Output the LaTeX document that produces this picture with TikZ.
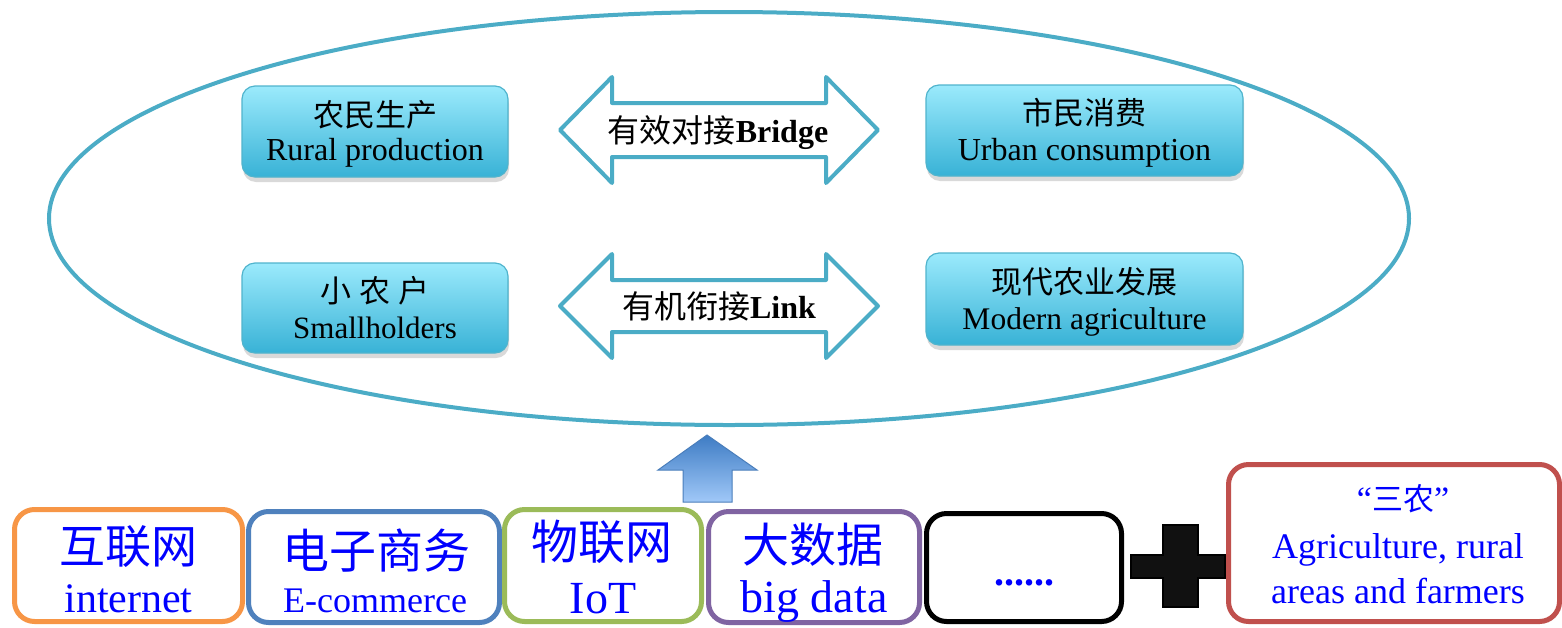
\documentclass[tikz,border=0pt]{standalone}
\usepackage{fontspec}
\setmainfont{Liberation Serif}
\newfontfamily\cjk{Noto Sans CJK SC}
\usetikzlibrary{shapes.geometric,shadows}
\newcommand\fsz[1]{\fontsize{#1}{#1}\selectfont}
\definecolor{oval}{RGB}{75,172,198}
\definecolor{topc}{RGB}{155,234,252}
\definecolor{botc}{RGB}{56,178,214}
\definecolor{tbord}{RGB}{80,180,205}
\definecolor{tblue}{RGB}{0,0,255}
\definecolor{cOr}{RGB}{247,150,70}
\definecolor{cBl}{RGB}{79,129,189}
\definecolor{cGr}{RGB}{155,187,89}
\definecolor{cPu}{RGB}{128,100,162}
\definecolor{cRe}{RGB}{192,80,77}
\definecolor{upT}{RGB}{62,124,196}
\definecolor{upB}{RGB}{160,200,248}
\definecolor{upD}{RGB}{74,126,187}
\definecolor{plusc}{RGB}{17,17,17}
\begin{document}
\begin{tikzpicture}[x=1pt,y=-1pt,
  tbox/.style={draw=tbord, line width=1.2pt, rounded corners=13pt, top color=topc, bottom color=botc,
    drop shadow={shadow xshift=1pt, shadow yshift=-5pt, opacity=0.3}, inner sep=0pt},
  bbox/.style={draw, rounded corners=20pt, line width=5pt, fill=white, inner sep=0pt},
  lab/.style={anchor=base, inner sep=0pt},
  blab/.style={anchor=base, inner sep=0pt, text=tblue},
  darr/.style={draw=oval, line width=4pt, fill=white, line join=round}]
\useasboundingbox (0,0) rectangle (1562,627);

% big oval
\node[ellipse, draw=oval, line width=4pt, minimum width=1360pt, minimum height=413pt, inner sep=0pt] (oval) at (729,218.5) {};

% top boxes
\node[tbox, minimum width=266pt, minimum height=91pt] (rural) at (375,131.5) {};
\node[tbox, minimum width=317pt, minimum height=91pt] (urban) at (1084.5,130.5) {};
\node[tbox, minimum width=266pt, minimum height=90pt] (small) at (375,308) {};
\node[tbox, minimum width=317pt, minimum height=92pt] (modern) at (1084.5,299) {};

\node[lab, font=\cjk\fsz{31}] (ruralz) at (375,126) {农民生产};
\node[lab, font=\fsz{32}] (rurale) at (375,160) {Rural production};
\node[lab, font=\cjk\fsz{31}] (urbanz) at (1084.5,124) {市民消费};
\node[lab, font=\fsz{32}] (urbane) at (1084.5,160) {Urban consumption};
\node[lab, font=\cjk\fsz{31}] (smallz) at (375,302) {小\hspace{8pt}农\hspace{8pt}户};
\node[lab, font=\fsz{31}] (smalle) at (375,338) {Smallholders};
\node[lab, font=\cjk\fsz{31}] (modernz) at (1084.5,293) {现代农业发展};
\node[lab, font=\fsz{31.5}] (moderne) at (1084.5,329) {Modern agriculture};

% double arrows
\draw[darr] (560,130) -- (612,77) -- (612,103) -- (826,103) -- (826,77) -- (878,130)
  -- (826,183) -- (826,157) -- (612,157) -- (612,183) -- cycle;
\node[lab, font=\fsz{32}] (bridge) at (718,142) {{\cjk 有效对接}\textbf{Bridge}};
\draw[darr] (560,306) -- (612,254) -- (612,280) -- (826,280) -- (826,254) -- (878,306)
  -- (826,358) -- (826,332) -- (612,332) -- (612,358) -- cycle;
\node[lab, font=\fsz{32}] (link) at (719,318) {{\cjk 有机衔接}\textbf{Link}};

% up arrow
\shade[top color=upT, bottom color=upB, draw=upD, line width=1pt]
  (707,435) -- (757,470) -- (732,470) -- (732,502) -- (683,502) -- (683,470) -- (658,470) -- cycle;

% bottom boxes
\node[bbox, draw=cOr, minimum width=228pt, minimum height=112pt] (inet) at (128.5,565.5) {};
\node[bbox, draw=cBl, minimum width=251pt, minimum height=111pt] (ecom) at (374,567) {};
\node[bbox, draw=cGr, minimum width=197pt, minimum height=112pt] (iot) at (603,565.5) {};
\node[bbox, draw=cPu, minimum width=211pt, minimum height=111pt] (bigd) at (814,567) {};
\node[bbox, draw=black, minimum width=195pt, minimum height=108pt] (dots) at (1024,567.5) {};
\node[bbox, draw=cRe, minimum width=331pt, minimum height=157pt] (sannong) at (1394,543) {};

\node[blab, font=\cjk\fsz{46}] (inetz) at (128.5,563) {互联网};
\node[blab, font=\fsz{42}] (inete) at (128.5,612) {internet};
\node[blab, font=\cjk\fsz{47}] (ecomz) at (376,568) {电子商务};
\node[blab, font=\fsz{36}] (ecome) at (375,612) {E-commerce};
\node[blab, font=\cjk\fsz{47}] (iotz) at (602,559) {物联网};
\node[blab, font=\fsz{46}] (iote) at (603,613) {IoT};
\node[blab, font=\cjk\fsz{47}] (bigdz) at (813,562) {大数据};
\node[blab, font=\fsz{46}] (bigde) at (814,612) {big data};
\node[blab, font=\bfseries\fsz{40}] (dotst) at (1024,585) {......};
\node[blab, font=\fsz{34}] (snz) at (1403,510) {“{\cjk\fsz{31}三农}”};
\node[blab, font=\fsz{36}] (sne1) at (1398,558) {Agriculture, rural};
\node[blab, font=\fsz{36}] (sne2) at (1398,603) {areas and farmers};

% plus sign
\filldraw[fill=plusc, draw=black, line width=1.5pt]
  (1131,555) -- (1163,555) -- (1163,525) -- (1198,525) -- (1198,555) -- (1225,555)
  -- (1225,578) -- (1198,578) -- (1198,607) -- (1163,607) -- (1163,578) -- (1131,578) -- cycle;
\end{tikzpicture}
\end{document}
